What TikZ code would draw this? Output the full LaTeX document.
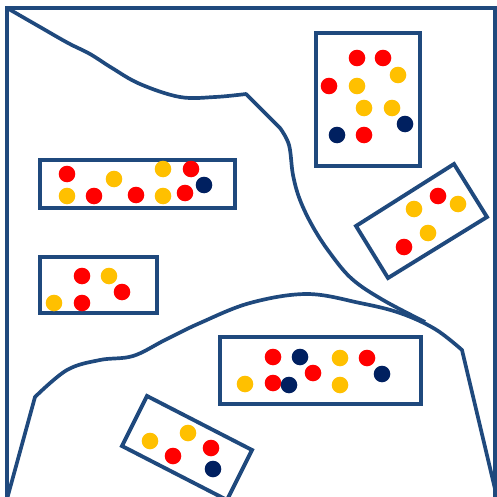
\documentclass[tikz,border=0pt]{standalone}
\usepackage{xcolor}
\usepackage{tikz}

\definecolor{lineblue}{RGB}{31,73,125}
\definecolor{dotred}{RGB}{255,0,0}
\definecolor{dotyellow}{RGB}{255,192,0}
\definecolor{dotnavy}{RGB}{0,32,96}

\begin{document}
\begin{tikzpicture}[
    x=0.02cm, y=-0.02cm,
    frame/.style={draw=lineblue, line width=2.3pt},
    border/.style={draw=lineblue, line width=2.1pt, line join=round},
    box/.style={draw=lineblue, line width=2.2pt, fill=white},
    reddot/.style={fill=dotred, radius=0.166cm},
    yellowdot/.style={fill=dotyellow, radius=0.166cm},
    navydot/.style={fill=dotnavy, radius=0.166cm},
]
\useasboundingbox (0,0) rectangle (497,497);
\clip (0,0) rectangle (497,497);

\draw[frame] (7,510) -- (7,8) -- (495,8) -- (495,510);

\draw[border] plot[smooth, tension=0.6] coordinates {(7,8) (40,27) (68,43) (90,54) (112,68) (140,84) (180,97) (215,97) (246,94)}
    -- (280,128) -- plot[smooth, tension=0.6] coordinates {(280,128) (289,145) (293,175) (300,200) (313,227) (330,253) (352,279) (383,300) (425,322)};
\draw[border] (4,510) -- (35,397) -- plot[smooth, tension=0.6] coordinates {(35,397) (67,370) (100,360) (133,356) (165,340) (200,323) (250,303) (307,294) (360,303) (400,313) (435,329) (462,350)}
    -- (500,510);

\draw[box] (316,33) rectangle (420,166);
\foreach \x/\y in {357/58, 383/58, 329/86, 364/135} \fill[reddot] (\x,\y) circle;
\foreach \x/\y in {398/75, 357/86, 364/108, 392/108} \fill[yellowdot] (\x,\y) circle;
\foreach \x/\y in {405/124, 337/135} \fill[navydot] (\x,\y) circle;

\draw[box] (40,160) rectangle (235,208);
\foreach \x/\y in {67/174, 94/196, 136/195, 191/169, 185/193} \fill[reddot] (\x,\y) circle;
\foreach \x/\y in {67/196, 114/179, 163/169, 163/196} \fill[yellowdot] (\x,\y) circle;
\fill[navydot] (204,185) circle;

\draw[box] (40,257) rectangle (157,313);
\foreach \x/\y in {82/276, 122/292, 82/303} \fill[reddot] (\x,\y) circle;
\foreach \x/\y in {109/276, 54/303} \fill[yellowdot] (\x,\y) circle;

\draw[box] (454,164) -- (487,217) -- (388,278) -- (356,226) -- cycle;
\foreach \x/\y in {438/196, 404/247} \fill[reddot] (\x,\y) circle;
\foreach \x/\y in {458/204, 414/209, 428/233} \fill[yellowdot] (\x,\y) circle;

\draw[box] (220,337) rectangle (421,404);
\foreach \x/\y in {273/357, 367/358, 313/373, 273/383} \fill[reddot] (\x,\y) circle;
\foreach \x/\y in {340/358, 245/384, 340/385} \fill[yellowdot] (\x,\y) circle;
\foreach \x/\y in {300/357, 382/374, 289/385} \fill[navydot] (\x,\y) circle;

\draw[box] (147,396) -- (252,450) -- (227,500) -- (122,446) -- cycle;
\foreach \x/\y in {173/456, 211/448} \fill[reddot] (\x,\y) circle;
\foreach \x/\y in {150/441, 188/433} \fill[yellowdot] (\x,\y) circle;
\fill[navydot] (213,469) circle;
\end{tikzpicture}
\end{document}
